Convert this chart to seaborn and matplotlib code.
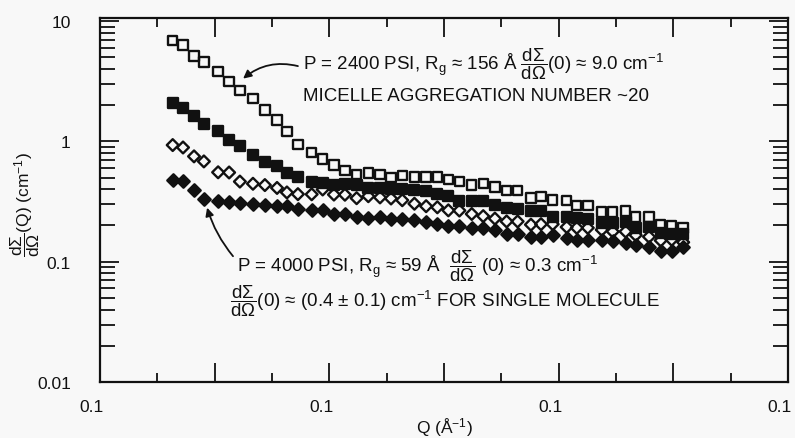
import matplotlib
matplotlib.use("Agg")
import matplotlib.pyplot as plt
import matplotlib.ticker as mticker
import matplotlib.transforms as mtransforms
import numpy as np
import pandas as pd
import seaborn as sns

# Scattering vector Q (1/Angstrom), shared by all four pressure runs
q = [0.0317, 0.0362, 0.0410, 0.0453, 0.0515, 0.0563, 0.0610, 0.0667, 0.0719,
     0.0772, 0.0815, 0.0863, 0.0923, 0.0971, 0.1020, 0.1068, 0.1119, 0.1170,
     0.1221, 0.1269, 0.1318, 0.1371, 0.1422, 0.1471, 0.1519, 0.1567, 0.1621,
     0.1671, 0.1722, 0.1773, 0.1821, 0.1879, 0.1923, 0.1974, 0.2035, 0.2079,
     0.2127, 0.2188, 0.2236, 0.2292, 0.2336, 0.2394, 0.2445, 0.2493, 0.2543]

# dSigma/dOmega(Q) in 1/cm
p2400_open_sq = [6.85, 6.33, 5.11, 4.55, 3.82, 3.14, 2.64, 2.26, 1.82, 1.50,
                 1.21, 0.944, 0.807, 0.714, 0.635, 0.575, 0.532, 0.547, 0.529,
                 0.501, 0.523, 0.506, 0.505, 0.504, 0.480, 0.465, 0.434, 0.447,
                 0.419, 0.392, 0.391, 0.339, 0.347, 0.325, 0.324, 0.294, 0.293,
                 0.259, 0.258, 0.264, 0.236, 0.236, 0.203, 0.200, 0.190]
mid_filled_sq = [2.07, 1.89, 1.62, 1.40, 1.23, 1.03, 0.918, 0.771, 0.676, 0.621,
                 0.545, 0.501, 0.463, 0.447, 0.432, 0.445, 0.431, 0.410, 0.409,
                 0.401, 0.405, 0.391, 0.390, 0.368, 0.353, 0.320, 0.319, 0.319,
                 0.298, 0.279, 0.275, 0.263, 0.262, 0.236, 0.235, 0.229, 0.228,
                 0.210, 0.209, 0.215, 0.191, 0.195, 0.173, 0.171, 0.170]
mid_open_dia = [0.931, 0.889, 0.750, 0.681, 0.553, 0.551, 0.463, 0.444, 0.433,
                0.410, 0.376, 0.364, 0.363, 0.398, 0.361, 0.360, 0.337, 0.350,
                0.342, 0.335, 0.324, 0.303, 0.289, 0.283, 0.267, 0.266, 0.249,
                0.239, 0.228, 0.216, 0.216, 0.203, 0.205, 0.205, 0.194, 0.191,
                0.191, 0.184, 0.178, 0.178, 0.166, 0.161, 0.150, 0.152, 0.145]
p4000_filled_dia = [0.476, 0.468, 0.396, 0.333, 0.321, 0.314, 0.306, 0.299,
                    0.295, 0.292, 0.288, 0.275, 0.269, 0.268, 0.251, 0.250,
                    0.234, 0.231, 0.233, 0.228, 0.225, 0.224, 0.213, 0.207,
                    0.199, 0.198, 0.189, 0.189, 0.182, 0.171, 0.170, 0.159,
                    0.161, 0.166, 0.158, 0.150, 0.150, 0.152, 0.149, 0.142,
                    0.137, 0.133, 0.122, 0.122, 0.132]

x_ticks = [0.0, 0.1, 0.2, 0.3]
x_tick_labels = ["0.1", "0.1", "0.1", "0.1"]
y_ticks = [0.01, 0.1, 1, 10]
y_tick_labels = ["0.01", "0.1", "1", "10"]

sns.set_theme(style="ticks")
BG = "#f8f8f8"
INK = "#111111"
plt.rcParams["font.family"] = ["Liberation Sans", "DejaVu Sans"]
plt.rcParams["mathtext.fontset"] = "custom"
plt.rcParams["mathtext.rm"] = "Liberation Sans"
plt.rcParams["mathtext.it"] = "Liberation Sans"
plt.rcParams["mathtext.bf"] = "Liberation Sans:bold"
plt.rcParams["mathtext.fallback"] = "stixsans"

fig = plt.figure(figsize=(7.95, 4.39), dpi=100, facecolor=BG)
ax = fig.add_axes([100 / 795, 1 - 383 / 439, 688 / 795, 364 / 439])
ax.set_facecolor(BG)

series = [
    (p2400_open_sq, "s", "none", 46),
    (mid_filled_sq, "s", INK, 46),
    (mid_open_dia, "D", "none", 36),
    (p4000_filled_dia, "D", INK, 40),
]
for vals, mk, fc, size in series:
    df = pd.DataFrame({"Q": q, "I": vals})
    sns.scatterplot(data=df, x="Q", y="I", ax=ax, marker=mk, s=size,
                    facecolor=fc, edgecolor=INK, linewidth=1.7, zorder=3)

ax.set_yscale("log")
ax.set_xlim(0.0, 0.3)
ax.set_ylim(0.01, 10 ** (1 + 3 / 120))

# x ticks: tall at every 0.05, short in between, labels at every 0.1
major_x = np.arange(0, 0.3001, 0.05)
ax.set_xticks(major_x)
ax.xaxis.set_minor_locator(mticker.MultipleLocator(0.025))
lab = []
for v in major_x:
    hit = [l for t, l in zip(x_ticks, x_tick_labels) if abs(t - v) < 1e-9]
    lab.append(hit[0] if hit else "")
ax.set_xticklabels(lab)

ax.set_yticks(y_ticks)
ax.set_yticklabels(y_tick_labels)
ax.yaxis.set_minor_locator(mticker.LogLocator(base=10, subs=np.arange(2, 10)))
ax.yaxis.set_minor_formatter(mticker.NullFormatter())

ax.tick_params(axis="both", which="both", direction="in", top=True, right=True,
               color=INK, width=1.3, labelsize=12.5, labelcolor=INK)
ax.tick_params(axis="x", which="major", length=14, pad=12)
ax.tick_params(axis="x", which="minor", length=6.5)
ax.tick_params(axis="y", which="major", length=14, pad=21)
ax.tick_params(axis="y", which="minor", length=10.5)
for sp in ax.spines.values():
    sp.set_color(INK)
    sp.set_linewidth(1.6)

# x tick labels sit a little left of their ticks
shift = mtransforms.ScaledTranslation(-8 / 100, 0, fig.dpi_scale_trans)
for t in ax.get_xticklabels():
    t.set_transform(t.get_transform() + shift)

ax.set_xlabel(r"Q ($\mathrm{\AA}^{-1}$)", fontsize=12.5, color=INK)
ax.set_ylabel(r"$\dfrac{d\Sigma}{d\Omega}$(Q) (cm$^{-1}$)", fontsize=12.5, color=INK)
ax.xaxis.set_label_coords(0.50, -0.093)
ax.yaxis.set_label_coords(-0.085, 0.49)

txt = dict(transform=ax.transAxes, fontsize=13.5, color=INK, ha="left", va="baseline")
ax.text(0.295, 0.862,
        r"P = 2400 PSI, R$_\mathrm{g}$ ≈ 156 Å $\dfrac{d\Sigma}{d\Omega}$(0) ≈ 9.0 cm$^{-1}$",
        **txt)
ax.text(0.295, 0.775, "MICELLE AGGREGATION NUMBER ~20", **txt)
ax.text(0.199, 0.306,
        r"P = 4000 PSI, R$_\mathrm{g}$ ≈ 59 Å  $\dfrac{d\Sigma}{d\Omega}$ (0) ≈ 0.3 cm$^{-1}$",
        **txt)
ax.text(0.189, 0.211,
        r"$\dfrac{d\Sigma}{d\Omega}$(0) ≈ (0.4 ± 0.1) cm$^{-1}$ FOR SINGLE MOLECULE",
        **txt)

arrow = dict(arrowstyle="-|>", color=INK, lw=1.3, mutation_scale=12,
             shrinkA=0, shrinkB=0)
ax.annotate("", xy=(0.0624, 3.32), xytext=(0.0863, 4.22),
            arrowprops=dict(connectionstyle="arc3,rad=0.25", **arrow))
ax.annotate("", xy=(0.0467, 0.281), xytext=(0.0580, 0.111),
            arrowprops=dict(connectionstyle="arc3,rad=-0.1", **arrow))

fig.savefig("out.png", dpi=100, facecolor=BG)
